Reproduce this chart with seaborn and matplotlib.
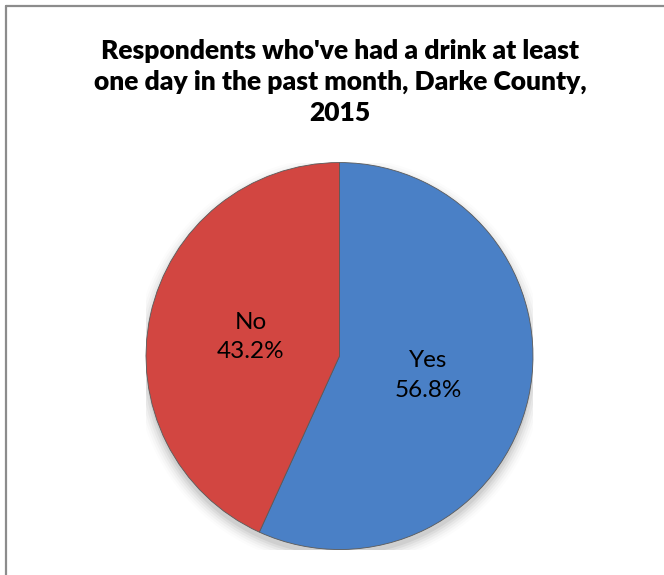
import matplotlib
matplotlib.use("Agg")
import matplotlib.pyplot as plt
from matplotlib.lines import Line2D
import numpy as np
import seaborn as sns

# Survey responses
categories = ["Yes", "No"]
percentages = [56.8, 43.2]
colors = ["#4a80c6", "#d24641"]

title = "Respondents who've had a drink at least\none day in the past month, Darke County,\n2015"

sns.set_theme(style="white")
plt.rcParams["font.family"] = ["Lato", "DejaVu Sans"]

fig = plt.figure(figsize=(6.64, 5.75), dpi=100)
fig.patch.set_facecolor("white")

# Chart frame (top and left edges)
fig.add_artist(Line2D([6 / 664, 1.0], [1 - 6 / 575, 1 - 6 / 575],
                      transform=fig.transFigure, color="#8c8c8c", lw=1.6))
fig.add_artist(Line2D([6 / 664, 6 / 664], [0.0, 1 - 6 / 575],
                      transform=fig.transFigure, color="#8c8c8c", lw=1.6))

fig.text(0.512, 1 - 82 / 575, title, ha="center", va="center",
         fontsize=19, fontweight="heavy", linespacing=1.33, color="black")

ax = fig.add_axes([0.2199, 0.0443, 0.5828, 0.673])

# soft drop shadow beneath the pie
for i, a in enumerate(np.linspace(0.05, 0.01, 6)):
    ax.add_patch(plt.Circle((0.0, -0.03), 1.0 + i * 0.012, color="black",
                            alpha=a, lw=0, zorder=0))

wedges, _ = ax.pie(percentages, colors=colors, startangle=90,
                   counterclock=False, radius=1.0,
                   wedgeprops=dict(edgecolor="#5a5a5a", linewidth=0.6))
for w in wedges:
    w.set_zorder(2)

for w, cat, pct in zip(wedges, categories, percentages):
    mid = np.deg2rad((w.theta1 + w.theta2) / 2)
    r = 0.47
    ax.text(r * np.cos(mid), r * np.sin(mid), f"{cat}\n{pct:.1f}%",
            ha="center", va="center", fontsize=17.5, linespacing=1.5,
            color="black", zorder=3)

ax.set_xlim(-1, 1)
ax.set_ylim(-1, 1)
ax.set_aspect("equal")
ax.axis("off")

fig.savefig("out.png", dpi=100)
